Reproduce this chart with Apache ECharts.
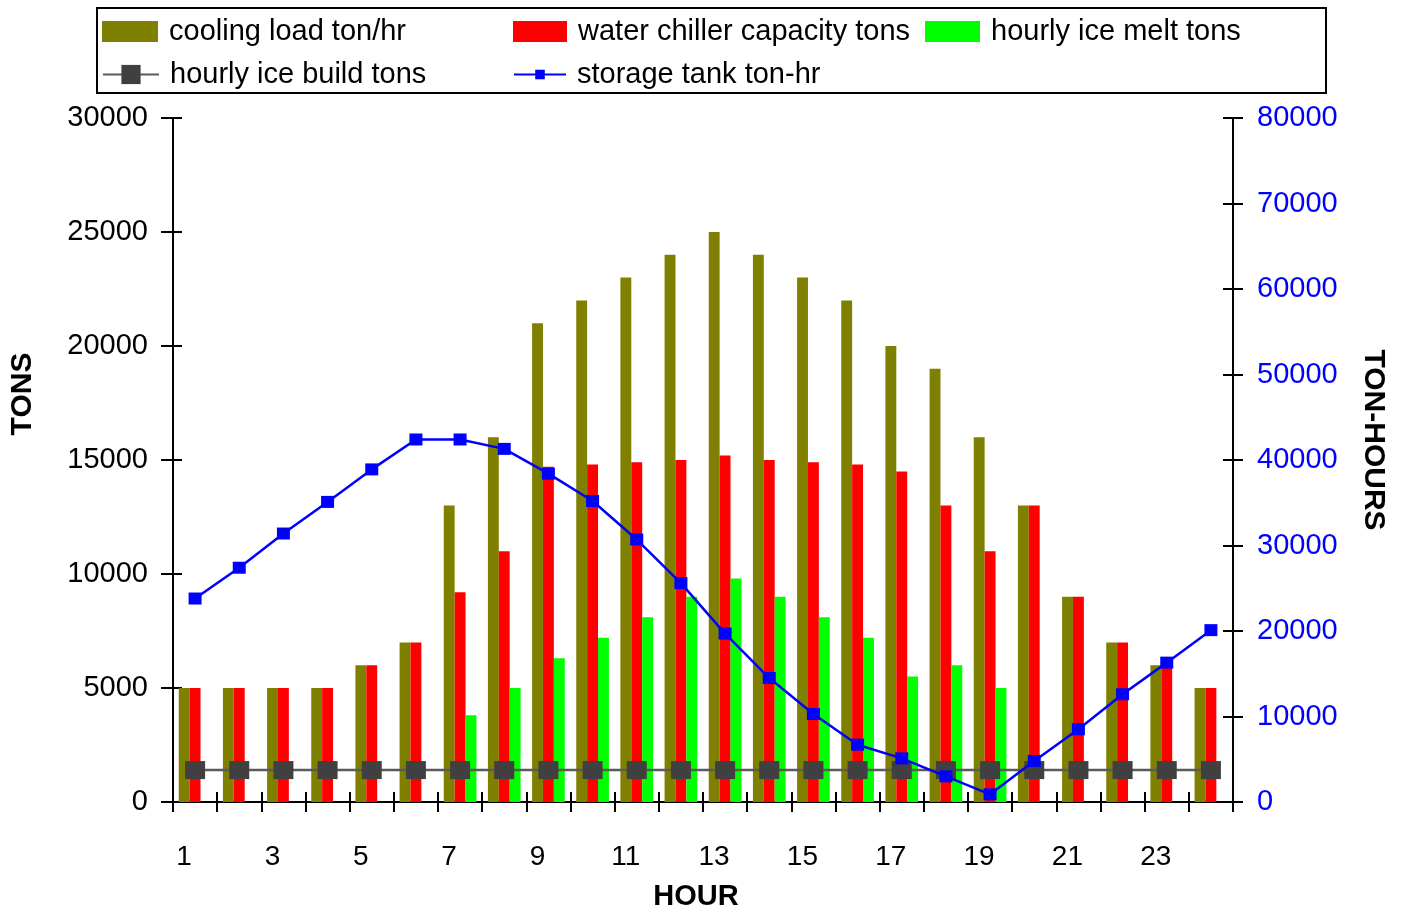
<!DOCTYPE html>
<html>
<head>
<meta charset="utf-8">
<script src="https://cdn.jsdelivr.net/npm/echarts@6/dist/echarts.min.js"></script>
<style>
html,body{margin:0;padding:0;background:#fff;}
#chart{width:1405px;height:916px;}
</style>
</head>
<body>
<div id="chart"></div>
<script>
var hours = ['1','2','3','4','5','6','7','8','9','10','11','12','13','14','15','16','17','18','19','20','21','22','23','24'];
var coolingLoad = [5000,5000,5000,5000,6000,7000,13000,16000,21000,22000,23000,24000,25000,24000,23000,22000,20000,19000,16000,13000,9000,7000,6000,5000];
var chillerCapacity = [5000,5000,5000,5000,6000,7000,9200,11000,14700,14800,14900,15000,15200,15000,14900,14800,14500,13000,11000,13000,9000,7000,6000,5000];
var iceMelt = [null,null,null,null,null,null,3800,5000,6300,7200,8100,9000,9800,9000,8100,7200,5500,6000,5000,null,null,null,null,null];
var iceBuild = [1400,1400,1400,1400,1400,1400,1400,1400,1400,1400,1400,1400,1400,1400,1400,1400,1400,1400,1400,1400,1400,1400,1400,1400];
var storageTank = [23800,27400,31400,35100,38900,42400,42400,41300,38400,35200,30700,25600,19700,14500,10300,6700,5100,3000,900,4800,8500,12600,16300,20100];
var leftTicks = {min:0, max:30000, interval:5000};
var rightTicks = {min:0, max:80000, interval:10000};

var FONT = 'Liberation Sans, Arial, Helvetica, sans-serif';
var chart = echarts.init(document.getElementById('chart'), null, {renderer:'canvas'});
function plain(v){ return String(v); }

function legendItem(name, left, top, w, h, icon) {
  var l = {
    data:[name], left:left, top:top, itemWidth:w, itemHeight:h,
    selectedMode:false, padding:0,
    textStyle:{fontFamily:FONT, fontSize:29, color:'#000', padding:[0,0,0,6]}
  };
  if (icon) l.icon = icon;
  return l;
}

var option = {
  animation:false,
  backgroundColor:'#fff',
  grid:{left:173, right:172, top:118, bottom:114, containLabel:false},
  legend:[
    legendItem('cooling load ton/hr', 102, 17, 56, 21, 'rect'),
    legendItem('water chiller capacity tons', 513, 17, 54, 21, 'rect'),
    legendItem('hourly ice melt tons', 925, 17, 55, 21, 'rect'),
    legendItem('hourly ice build tons', 102, 60, 56, 24),
    legendItem('storage tank ton-hr', 513, 60, 52, 12)
  ],
  xAxis:[{
    type:'category', data:hours, position:'bottom',
    axisLine:{show:true, onZero:false, lineStyle:{color:'#000', width:2}},
    axisTick:{show:true, inside:false, length:10, interval:0, alignWithLabel:false, lineStyle:{color:'#000', width:2}},
    axisLabel:{interval:1, margin:41, fontFamily:FONT, fontSize:28, color:'#000', padding:[0,22,0,0]},
    splitLine:{show:false}
  },{
    type:'category', data:hours, position:'bottom',
    axisLine:{show:false},
    axisTick:{show:true, inside:true, length:10, interval:0, lineStyle:{color:'#000', width:2}},
    axisLabel:{show:false}, splitLine:{show:false}
  }],
  yAxis:[{
    type:'value', position:'left', min:leftTicks.min, max:leftTicks.max, interval:leftTicks.interval,
    axisLine:{show:true, lineStyle:{color:'#000', width:2}},
    axisTick:{show:true, inside:false, length:12, lineStyle:{color:'#000', width:2}},
    axisLabel:{margin:25, fontFamily:FONT, fontSize:29, color:'#000', formatter:plain, padding:[5,0,0,0]},
    splitLine:{show:false}
  },{
    type:'value', position:'right', min:rightTicks.min, max:rightTicks.max, interval:rightTicks.interval,
    axisLine:{show:true, lineStyle:{color:'#000', width:2}},
    axisTick:{show:true, inside:false, length:10, lineStyle:{color:'#000', width:2}},
    axisLabel:{margin:24, fontFamily:FONT, fontSize:29, color:'#0000ff', formatter:plain, padding:[5,0,0,0]},
    splitLine:{show:false}
  },{
    type:'value', position:'left', min:leftTicks.min, max:leftTicks.max, interval:leftTicks.interval,
    axisLine:{show:false},
    axisTick:{show:true, inside:true, length:9, lineStyle:{color:'#000', width:2}},
    axisLabel:{show:false}, splitLine:{show:false}
  },{
    type:'value', position:'right', min:rightTicks.min, max:rightTicks.max, interval:rightTicks.interval,
    axisLine:{show:false},
    axisTick:{show:true, inside:true, length:10, lineStyle:{color:'#000', width:2}},
    axisLabel:{show:false}, splitLine:{show:false}
  }],
  series:[
    {name:'cooling load ton/hr', type:'bar', data:coolingLoad, xAxisIndex:0, yAxisIndex:0,
     barGap:'0%', barCategoryGap:'26%', itemStyle:{color:'#808000'}, z:2},
    {name:'water chiller capacity tons', type:'bar', data:chillerCapacity, xAxisIndex:0, yAxisIndex:0,
     barGap:'0%', barCategoryGap:'26%', itemStyle:{color:'#ff0000'}, z:2},
    {name:'hourly ice melt tons', type:'bar', data:iceMelt, xAxisIndex:0, yAxisIndex:0,
     barGap:'0%', barCategoryGap:'26%', itemStyle:{color:'#00ff00'}, z:2},
    {name:'hourly ice build tons', type:'line', data:iceBuild, xAxisIndex:0, yAxisIndex:0,
     symbol:'rect', symbolSize:[20,18], showSymbol:true,
     lineStyle:{color:'#5a5a5a', width:2.5}, itemStyle:{color:'#404040'}, z:5},
    {name:'storage tank ton-hr', type:'line', data:storageTank, xAxisIndex:0, yAxisIndex:1,
     symbol:'rect', symbolSize:[13,12], showSymbol:true,
     lineStyle:{color:'#0000ff', width:2.5}, itemStyle:{color:'#0000ff'}, z:6}
  ],
  graphic:[
    {type:'rect', shape:{x:97, y:8, width:1229, height:85},
     style:{fill:'none', stroke:'#000', lineWidth:2}, z:10, silent:true},
    {type:'text', x:23, y:394, rotation:Math.PI/2,
     style:{text:'TONS', fontFamily:FONT, fontSize:30, fontWeight:'bold', fill:'#000', textAlign:'center', textVerticalAlign:'middle'}},
    {type:'text', x:1373, y:440, rotation:-Math.PI/2,
     style:{text:'TON-HOURS', fontFamily:FONT, fontSize:30, fontWeight:'bold', fill:'#000', textAlign:'center', textVerticalAlign:'middle'}},
    {type:'text', x:696, y:897,
     style:{text:'HOUR', fontFamily:FONT, fontSize:29, fontWeight:'bold', fill:'#000', textAlign:'center', textVerticalAlign:'middle'}}
  ]
};
chart.setOption(option);
</script>
</body>
</html>
